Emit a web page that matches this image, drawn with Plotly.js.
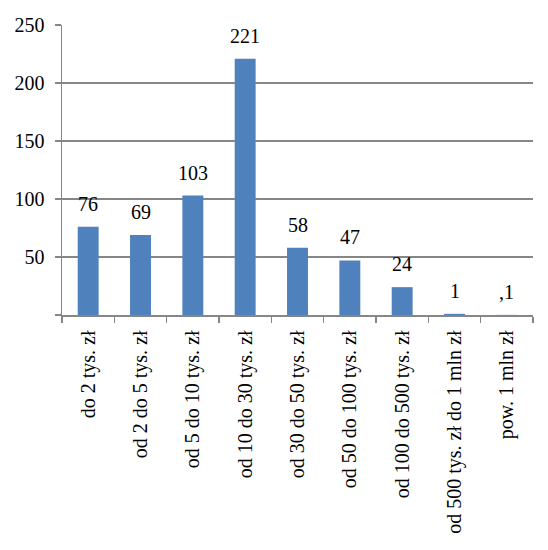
<!DOCTYPE html>
<html>
<head>
<meta charset="utf-8">
<script src="https://cdn.plot.ly/plotly-3.0.1.min.js"></script>
<style>html,body{margin:0;padding:0;background:#fff;}</style>
</head>
<body>
<div id="chart" style="width:548px;height:550px;"></div>
<script>
const categories = ["do 2 tys. zł", "od 2 do 5 tys. zł", "od 5 do 10 tys. zł", "od 10 do 30 tys. zł", "od 30 do 50 tys. zł", "od 50 do 100 tys. zł", "od 100 do 500 tys. zł", "od 500 tys. zł do 1 mln zł", "pow. 1 mln zł"];
const values = [76, 69, 103, 221, 58, 47, 24, 1, 0.1];
const valueLabels = ["76", "69", "103", "221", "58", "47", "24", "1", ",1"];
const yTickVals = [0, 50, 100, 150, 200, 250];
const yTickText = ["", "50", "100", "150", "200", "250"];

const font = "Liberation Serif, Times New Roman, serif";
const grid = "#868686";

const trace = {
  type: "bar",
  x: categories,
  y: values,
  marker: {color: "#4F81BD"},
  width: 0.4,
  hoverinfo: "skip"
};

const annotations = categories.map((c, i) => ({
  x: c, y: values[i], xref: "x", yref: "y",
  text: valueLabels[i], showarrow: false,
  yanchor: "bottom", yshift: 10,
  font: {family: font, size: 20, color: "#000"}
}));

const layout = {
  width: 548, height: 550,
  margin: {l: 62, r: 15, t: 25, b: 235},
  paper_bgcolor: "#fff", plot_bgcolor: "#fff",
  showlegend: false,
  bargap: 0.6,
  font: {family: font, size: 20, color: "#000"},
  xaxis: {
    type: "category",
    tickangle: -90,
    ticks: "outside", tickson: "boundaries", ticklen: 6, tickcolor: grid, tickwidth: 1.5,
    ticklabelstandoff: 6,
    showline: true, linecolor: grid, linewidth: 1.5,
    showgrid: false, zeroline: false,
    tickfont: {family: font, size: 20, color: "#000"}
  },
  yaxis: {
    range: [0, 250],
    tickvals: yTickVals, ticktext: yTickText,
    ticks: "outside", ticklen: 6, tickcolor: grid, tickwidth: 1.5,
    ticklabelstandoff: 6,
    showline: true, linecolor: grid, linewidth: 1.5,
    showgrid: true, gridcolor: grid, gridwidth: 1.5,
    zeroline: false,
    tickfont: {family: font, size: 20, color: "#000"}
  },
  annotations: annotations
};

Plotly.newPlot("chart", [trace], layout, {displayModeBar: false, staticPlot: true});
</script>
</body>
</html>
